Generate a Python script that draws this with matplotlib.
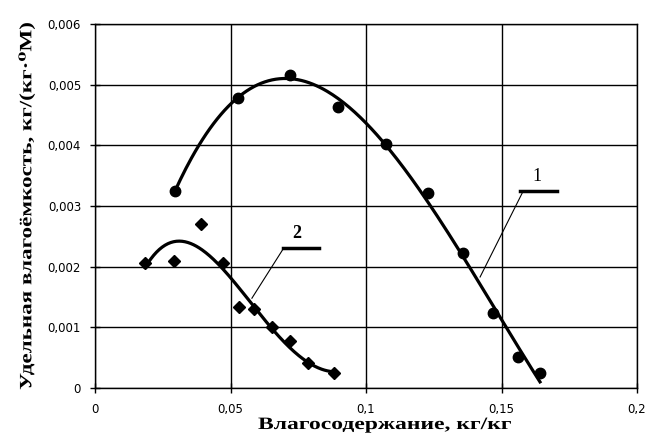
import numpy as np
import matplotlib
matplotlib.use("Agg")
import matplotlib.pyplot as plt
from matplotlib.patheffects import AbstractPathEffect
from matplotlib.transforms import Affine2D

# Series 1 (circles)
x1 = [0.0295, 0.0528, 0.0720, 0.0897, 0.1074, 0.1229, 0.1358, 0.1469, 0.1561, 0.1642]
y1 = [0.00325, 0.00478, 0.00516, 0.00463, 0.00402, 0.00321, 0.00222, 0.00124, 0.00051, 0.00025]
# Series 2 (diamonds)
x2 = [0.0185, 0.0292, 0.0391, 0.0472, 0.0531, 0.0587, 0.0653, 0.0720, 0.0786, 0.0882]
y2 = [0.00206, 0.00209, 0.00270, 0.00206, 0.00133, 0.00130, 0.00100, 0.00077, 0.00041, 0.00025]

xticks = [0, 0.05, 0.1, 0.15, 0.2]
yticks = [0, 0.001, 0.002, 0.003, 0.004, 0.005, 0.006]
xtick_labels = ["0", "0,05", "0,1", "0,15", "0,2"]
ytick_labels = ["0", "0,001", "0,002", "0,003", "0,004", "0,005", "0,006"]


class Stretch(AbstractPathEffect):
    """Stretch drawn text about a fixed display point (emulates letter spacing)."""
    def __init__(self, sx=1.0, sy=1.0, center=(0, 0)):
        super().__init__()
        self.sx, self.sy, self.center = sx, sy, center

    def draw_path(self, renderer, gc, tpath, affine, rgbFace=None):
        cx, cy = self.center
        t = affine + Affine2D().translate(-cx, -cy).scale(self.sx, self.sy).translate(cx, cy)
        renderer.draw_path(gc, tpath, t, rgbFace)


W, H = 649, 436
fig = plt.figure(figsize=(W / 100, H / 100), dpi=100)
ax = fig.add_axes([95 / W, (H - 388) / H, 542 / W, 364 / H])

ax.set_xlim(0, 0.2)
ax.set_ylim(0, 0.006)
ax.set_xticks(xticks)
ax.set_yticks(yticks)
ax.set_xticklabels(xtick_labels, family="DejaVu Sans", fontsize=8.5)
ax.set_yticklabels(ytick_labels, family="DejaVu Sans", fontsize=8.5)
ax.tick_params(direction="inout", length=7, width=1, color="black")
ax.tick_params(axis="x", pad=7)
ax.tick_params(axis="y", pad=6.5)
ax.grid(True, color="black", linewidth=1)
ax.set_axisbelow(True)
for s in ax.spines.values():
    s.set_color("black")
    s.set_linewidth(1)

# trendlines (polynomial fits of the data)
p1 = np.polyfit(x1, y1, 3)
xs1 = np.linspace(min(x1), max(x1), 200)
ax.plot(xs1, np.polyval(p1, xs1), color="black", linewidth=2.3, zorder=3)
p2 = np.polyfit(x2, y2, 4)
xs2 = np.linspace(min(x2), max(x2), 200)
ax.plot(xs2, np.polyval(p2, xs2), color="black", linewidth=2.3, zorder=3)

ax.plot(x1, y1, linestyle="none", marker="o", markersize=7.5, color="black", zorder=4)
ax.plot(x2, y2, linestyle="none", marker="D", markersize=6.5, color="black", zorder=4)

# labels with leaders
ax.plot([0.1568, 0.1705], [0.003245, 0.003245], color="black", linewidth=2.5, zorder=5)
ax.plot([0.1576, 0.1421], [0.00321, 0.00183], color="black", linewidth=0.8, zorder=5)
ax.text(0.1631, 0.00335, "1", family="Liberation Serif", fontsize=13, ha="center", va="bottom")
ax.plot([0.0694, 0.0827], [0.00231, 0.00231], color="black", linewidth=2.5, zorder=5)
ax.plot([0.0694, 0.0579], [0.00229, 0.00148], color="black", linewidth=0.8, zorder=5)
ax.text(0.0745, 0.00241, "2", family="Liberation Serif", fontsize=13, ha="center", va="bottom", weight="bold")

xl_x, xl_y = 385, H - 429
fig.text(xl_x / W, xl_y / H, "Влагосодержание, кг/кг", family=["Liberation Serif", "DejaVu Serif"],
         weight="bold", fontsize=12.5, ha="center", va="baseline",
         path_effects=[Stretch(sx=1.36, center=(xl_x, xl_y))])
yl_x, yl_y = 27, H - 206
fig.text(yl_x / W, yl_y / H, "Удельная влагоёмкость, кг/(кг\u00b7\u2070М)",
         family=["Liberation Serif", "DejaVu Serif"],
         weight="bold", fontsize=12.5, ha="center", va="center", rotation=90,
         path_effects=[Stretch(sy=1.33, center=(yl_x, yl_y))])

fig.savefig("out.png", dpi=100, facecolor="white")
